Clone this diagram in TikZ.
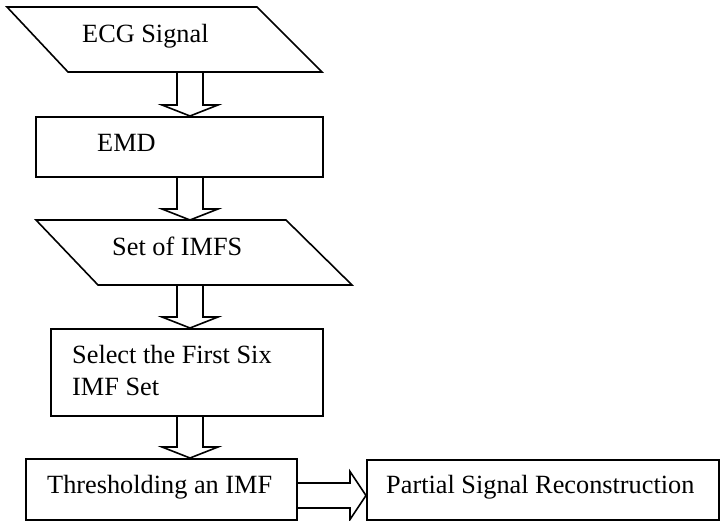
\documentclass[tikz,border=0pt]{standalone}
\usepackage{fontspec}
\setmainfont{Liberation Serif}
\usetikzlibrary{calc}
\newcommand{\blockdown}[2]{%
  \draw[flowline] let \p1=(#1), \p2=(#2) in
    (\x2-13pt,\y1) -- (\x2-13pt,\y2+11pt) -- (\x2-28pt,\y2+11pt) -- (\x2,\y2)
    -- (\x2+28pt,\y2+11pt) -- (\x2+13pt,\y2+11pt) -- (\x2+13pt,\y1);}
\begin{document}
\begin{tikzpicture}[x=1pt,y=-1pt,
  flowline/.style={line width=1.6pt, line join=miter},
  txt/.style={anchor=base west, inner sep=0pt, font=\fontsize{26.3}{31}\selectfont},
  box/.style={draw, line width=1.6pt, rectangle, inner sep=0pt, anchor=north west}]
\useasboundingbox (0,0) rectangle (720,521);
% parallelogram 1
\draw[flowline] (7,7) -- (257,7) -- (322,72) -- (68,72) -- cycle;
\coordinate (p1b) at (190,72);
\node[txt] (t1) at (82,43) {ECG Signal};
% EMD
\node[box, minimum width=287pt, minimum height=60pt] (emd) at (35,116) {};
\node[txt] (t2) at (97,152) {EMD};
% parallelogram 2
\draw[flowline] (36,220) -- (286,220) -- (352,285) -- (98,285) -- cycle;
\coordinate (p2t) at (190,220);
\coordinate (p2b) at (190,285);
\node[txt] (t3) at (112,256) {Set of IMFS};
% select box
\node[box, minimum width=272pt, minimum height=87pt] (sel) at (50,328) {};
\node[txt] (t4a) at (72,363) {Select the First Six};
\node[txt] (t4b) at (72,395) {IMF Set};
% thresholding
\node[box, minimum width=271pt, minimum height=61pt] (thr) at (25,458) {};
\node[txt] (t5) at (47,493) {Thresholding an IMF};
% partial reconstruction
\node[box, minimum width=352pt, minimum height=60pt] (psr) at (366,459) {};
\node[txt] (t6) at (386,493) {Partial Signal Reconstruction};
% down arrows
\coordinate (axis) at (190,0);
\blockdown{p1b}{emd.north -| axis}
\blockdown{emd.south -| axis}{p2t}
\blockdown{p2b}{sel.north -| axis}
\blockdown{sel.south -| axis}{thr.north -| axis}
% right arrow
\coordinate (hmid) at (0,495.5);
\draw[flowline] let \p1=(thr.east |- hmid), \p2=(psr.west |- hmid) in
  (\x1,\y2+12.5pt) -- (\x2-16pt,\y2+12.5pt) -- (\x2-16pt,\y2+24pt) -- (\x2,\y2)
  -- (\x2-16pt,\y2-24pt) -- (\x2-16pt,\y2-12.5pt) -- (\x1,\y2-12.5pt);
\end{tikzpicture}
\end{document}
